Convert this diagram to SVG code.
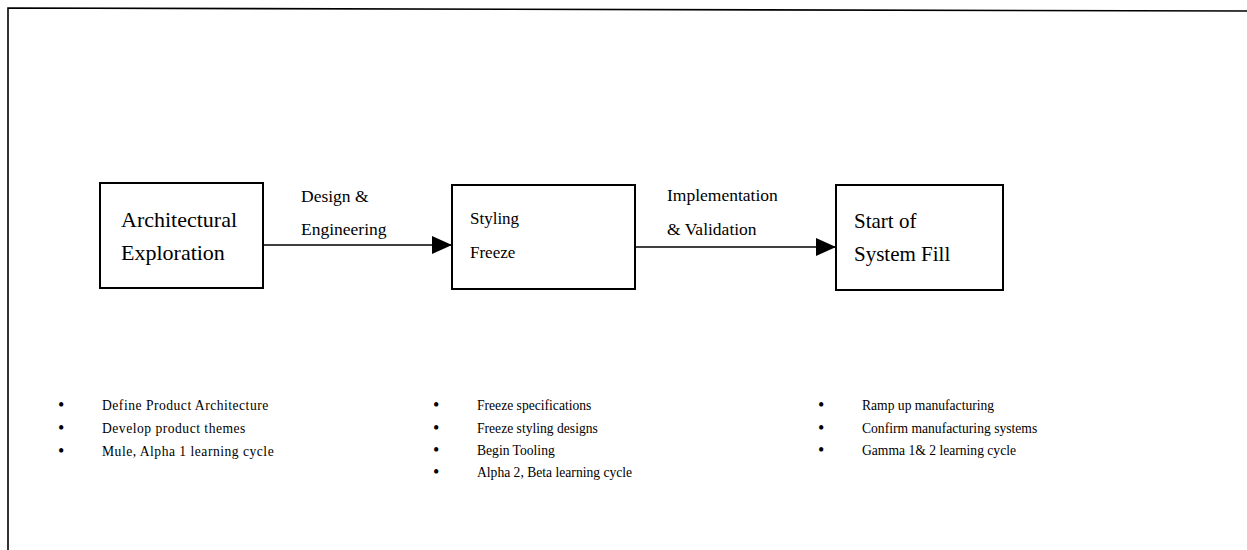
<svg xmlns="http://www.w3.org/2000/svg" width="1247" height="550" viewBox="0 0 1247 550">
<style>
text{font-family:"Liberation Serif","Times New Roman",serif;fill:#000}
.box{fill:#fff;stroke:#000;stroke-width:2}
.big{font-size:22px}
.big3{font-size:21px}
.mid{font-size:17px}
.lbl{font-size:17.5px}
.bul{font-size:13.6px}
.wide{letter-spacing:0.5px}
.dot{font-size:18px}
.edge{stroke:#000;stroke-width:1.6;fill:none}
</style>
<defs>
<marker id="ah" markerWidth="20" markerHeight="20" refX="20" refY="9" orient="auto" markerUnits="userSpaceOnUse">
<path d="M0,0 L20,9 L0,18 Z" fill="#000"/>
</marker>
</defs>
<rect width="1247" height="550" fill="#fff"/>
<g id="frame">
<path d="M8,550 L8,8 L1247,11" fill="none" stroke="#000" stroke-width="1.6"/>
</g>
<g id="connectors">
<line class="edge" x1="263" y1="245" x2="452" y2="245" marker-end="url(#ah)"/>
<line class="edge" x1="635" y1="247" x2="836" y2="247" marker-end="url(#ah)"/>
<text class="lbl" x="301" y="202">Design &amp;</text>
<text class="lbl" x="301" y="235">Engineering</text>
<text class="lbl" x="667" y="201">Implementation</text>
<text class="lbl" x="667" y="235">&amp; Validation</text>
</g>
<g id="node1">
<rect class="box" x="100" y="183" width="163" height="105"/>
<text class="big" x="121" y="227">Architectural</text>
<text class="big" x="121" y="260">Exploration</text>
</g>
<g id="node2">
<rect class="box" x="452" y="185" width="183" height="104"/>
<text class="mid" x="470" y="224">Styling</text>
<text class="mid" x="470" y="258">Freeze</text>
</g>
<g id="node3">
<rect class="box" x="836" y="185" width="167" height="105"/>
<text class="big3" x="854" y="228">Start of</text>
<text class="big3" x="854" y="261">System Fill</text>
</g>
<g id="list1">
<text class="dot" x="58" y="411">•</text><text class="bul wide" x="102" y="410">Define Product Architecture</text>
<text class="dot" x="58" y="434">•</text><text class="bul wide" x="102" y="433">Develop product themes</text>
<text class="dot" x="58" y="457">•</text><text class="bul wide" x="102" y="456">Mule, Alpha 1 learning cycle</text>
</g>
<g id="list2">
<text class="dot" x="433" y="411">•</text><text class="bul" x="477" y="410">Freeze specifications</text>
<text class="dot" x="433" y="434">•</text><text class="bul" x="477" y="433">Freeze styling designs</text>
<text class="dot" x="433" y="456">•</text><text class="bul" x="477" y="455">Begin Tooling</text>
<text class="dot" x="433" y="478">•</text><text class="bul" x="477" y="477">Alpha 2, Beta learning cycle</text>
</g>
<g id="list3">
<text class="dot" x="818" y="411">•</text><text class="bul" x="862" y="410">Ramp up manufacturing</text>
<text class="dot" x="818" y="434">•</text><text class="bul" x="862" y="433">Confirm manufacturing systems</text>
<text class="dot" x="818" y="456">•</text><text class="bul" x="862" y="455">Gamma 1&amp; 2 learning cycle</text>
</g>
</svg>
